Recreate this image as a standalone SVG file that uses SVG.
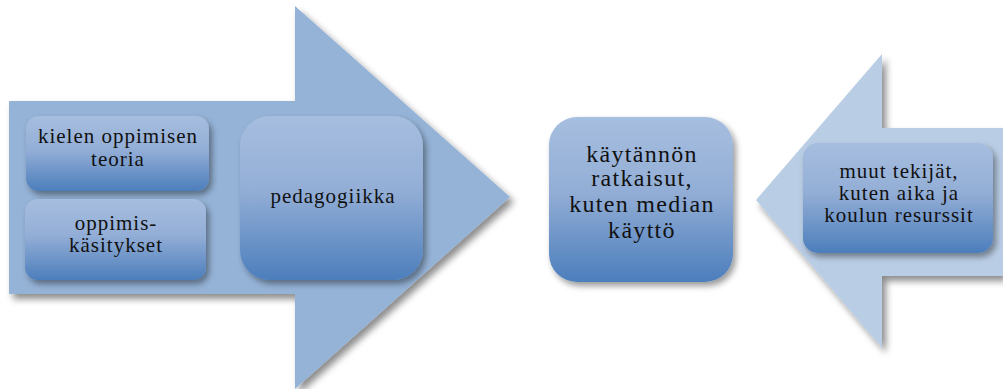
<svg xmlns="http://www.w3.org/2000/svg" width="1003" height="389" viewBox="0 0 1003 389">
<defs>
<linearGradient id="g" x1="0" y1="0" x2="0" y2="1">
<stop offset="0" stop-color="#a6bedf"/>
<stop offset="0.45" stop-color="#93aed6"/>
<stop offset="1" stop-color="#4c7ebc"/>
</linearGradient>
<filter id="sh" x="-10%" y="-10%" width="125%" height="130%">
<feDropShadow dx="3" dy="4" stdDeviation="3" flood-color="#000" flood-opacity="0.4"/>
</filter>
<filter id="ash" x="-10%" y="-10%" width="125%" height="130%">
<feDropShadow dx="4" dy="5" stdDeviation="3.5" flood-color="#000" flood-opacity="0.45"/>
</filter>
<style>
.box{fill:url(#g);filter:url(#sh);}
.t{font-family:"Liberation Serif","DejaVu Serif",serif;fill:#111;text-anchor:middle;}
.s{font-size:21px;letter-spacing:1px;}
.m{font-size:24px;letter-spacing:1.3px;}
</style>
</defs>
<g id="connectors">
<polygon id="arrow-left" points="9,101 295,101 295,6 510,197 295,389 295,294 9,294" fill="#95b3d7" filter="url(#ash)"/>
<polygon id="arrow-right" points="1003,128 882,128 882,54 756,200 882,348 882,276 1003,276" fill="#b9cde5" filter="url(#ash)"/>
</g>
<g id="node-kielen">
<rect class="box" x="26" y="116" width="183" height="75" rx="13"/>
<text class="t s" x="118" y="143">kielen oppimisen</text>
<text class="t s" x="118" y="166">teoria</text>
</g>
<g id="node-oppimis">
<rect class="box" x="25" y="199" width="181" height="81" rx="13"/>
<text class="t s" x="116" y="230">oppimis-</text>
<text class="t s" x="116" y="252">käsitykset</text>
</g>
<g id="node-pedagogiikka">
<rect class="box" x="240" y="116" width="183" height="164" rx="30"/>
<text class="t s" x="333" y="203">pedagogiikka</text>
</g>
<g id="node-kaytannon">
<rect class="box" x="549" y="117" width="184" height="165" rx="28"/>
<text class="t m" x="642" y="162">käytännön</text>
<text class="t m" x="642" y="186">ratkaisut,</text>
<text class="t m" x="642" y="212">kuten median</text>
<text class="t m" x="642" y="238">käyttö</text>
</g>
<g id="node-muut">
<rect class="box" x="803" y="143" width="190" height="110" rx="15"/>
<text class="t s" x="899" y="178">muut tekijät,</text>
<text class="t s" x="899" y="200">kuten aika ja</text>
<text class="t s" x="899" y="222">koulun resurssit</text>
</g>
</svg>
